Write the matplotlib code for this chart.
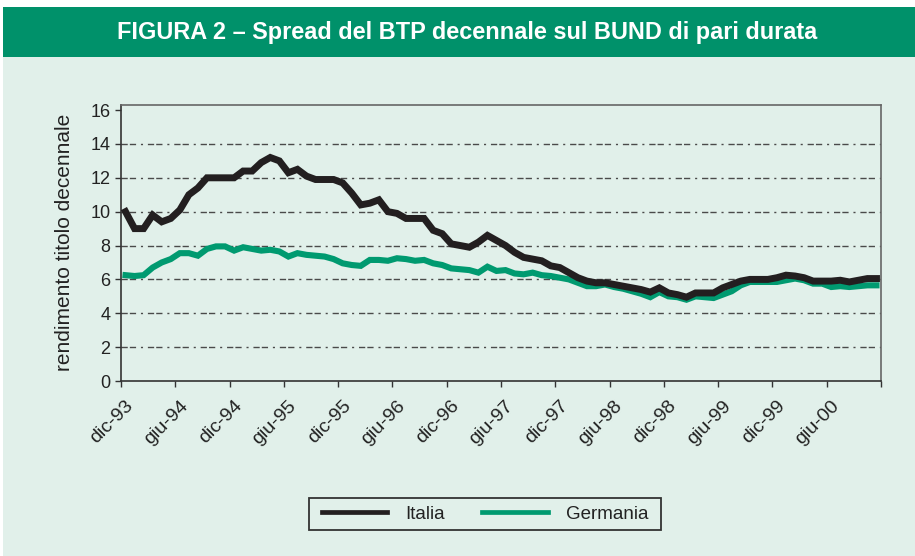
import matplotlib
matplotlib.use("Agg")
import matplotlib.pyplot as plt
from matplotlib.patches import Rectangle
import matplotlib.transforms as mtransforms

plt.rcParams["font.family"] = ["Liberation Sans", "DejaVu Sans"]
plt.rcParams["lines.scale_dashes"] = False

HEADER = "#00916A"
BG = "#E1F0EA"
BLACK = "#231F20"
GREEN = "#009A70"
GRID = "#4A4A4A"

# monthly observations, dic-93 .. nov-00
italia = [10.0, 9.0, 9.0, 9.8, 9.4, 9.6, 10.1, 11.0, 11.4, 12.0,
          12.0, 12.0, 12.0, 12.4, 12.4, 12.9, 13.2, 13.0, 12.3, 12.5,
          12.1, 11.9, 11.9, 11.9, 11.7, 11.1, 10.4, 10.5, 10.7, 10.0,
          9.9, 9.6, 9.6, 9.6, 8.9, 8.7, 8.1, 8.0, 7.9, 8.2,
          8.6, 8.3, 8.0, 7.6, 7.3, 7.2, 7.1, 6.8, 6.7, 6.4,
          6.1, 5.9, 5.8, 5.8, 5.7, 5.6, 5.5, 5.4, 5.25, 5.5,
          5.2, 5.1, 4.95, 5.2, 5.2, 5.2, 5.5, 5.7, 5.9, 6.0,
          6.0, 6.0, 6.1, 6.25, 6.2, 6.1, 5.9, 5.9, 5.9, 5.95,
          5.85, 5.95, 6.05, 6.05]
germania = [6.25, 6.2, 6.25, 6.7, 7.0, 7.2, 7.55, 7.55, 7.4, 7.8,
            7.95, 7.95, 7.7, 7.9, 7.8, 7.7, 7.75, 7.65, 7.35, 7.55,
            7.45, 7.4, 7.35, 7.2, 6.95, 6.85, 6.8, 7.15, 7.15, 7.1,
            7.25, 7.2, 7.1, 7.15, 6.95, 6.85, 6.65, 6.6, 6.55, 6.4,
            6.75, 6.5, 6.55, 6.35, 6.3, 6.4, 6.25, 6.2, 6.1, 6.0,
            5.8, 5.6, 5.6, 5.7, 5.55, 5.45, 5.3, 5.15, 4.95, 5.25,
            5.0, 4.95, 4.8, 5.0, 4.95, 4.9, 5.1, 5.3, 5.65, 5.85,
            5.85, 5.85, 5.85, 5.95, 6.05, 5.95, 5.75, 5.75, 5.55, 5.6,
            5.55, 5.6, 5.65, 5.65]
tick_labels = ["dic-93", "giu-94", "dic-94", "giu-95", "dic-95", "giu-96",
               "dic-96", "giu-97", "dic-97", "giu-98", "dic-98", "giu-99",
               "dic-99", "giu-00", ""]

W, H = 915, 556
fig = plt.figure(figsize=(W / 100, H / 100), dpi=100)
fig.patch.set_facecolor("white")
fig.patches.append(Rectangle((3 / W, 0), 1, 1 - 57 / H, transform=fig.transFigure,
                             facecolor=BG, edgecolor="none", zorder=-10))
fig.patches.append(Rectangle((3 / W, 1 - 57 / H), 1, 50 / H, transform=fig.transFigure,
                             facecolor=HEADER, edgecolor="none", zorder=-10))
fig.text(467 / W, 1 - 32 / H, "FIGURA 2 – Spread del BTP decennale sul BUND di pari durata",
         color="white", fontsize=16.9, fontweight="bold", ha="center", va="center")

ax = fig.add_axes([121 / W, 1 - 381 / H, 760 / W, 276 / H])
ax.set_facecolor(BG)

x = [i + 0.5 for i in range(len(italia))]
ax.plot(x, italia, color=BLACK, lw=5.0, solid_joinstyle="miter", label="Italia", zorder=3)
ax.plot(x, germania, color=GREEN, lw=4.4, solid_joinstyle="miter", label="Germania", zorder=2)

ax.set_xlim(0, 84)
ax.set_ylim(0, 16.3)
ax.set_yticks(range(0, 17, 2))
ax.set_xticks(range(0, 85, 6))

for yv in range(2, 16, 2):
    ax.axhline(yv, color=GRID, lw=1.0, ls=(0, (4.5, 1.5, 4.5, 3.5, 1.5, 3.5)), zorder=1)

ax.tick_params(axis="both", direction="out", length=4, width=1, color="#333333",
               labelcolor="#222222")
ax.tick_params(axis="y", labelsize=13)
ax.tick_params(axis="x", labelsize=14, pad=2)

ax.set_xticklabels(tick_labels, rotation=45, ha="right", rotation_mode="anchor",
                   fontsize=14)
offset = mtransforms.ScaledTranslation(4 / 100, -8 / 100, fig.dpi_scale_trans)
for lab in ax.get_xticklabels():
    lab.set_transform(lab.get_transform() + offset)

for side in ["left", "bottom"]:
    ax.spines[side].set_color("#333333")
    ax.spines[side].set_linewidth(1.2)
for side in ["top", "right"]:
    ax.spines[side].set_color("#666666")
    ax.spines[side].set_linewidth(1.2)

fig.text(65 / W, 1 - 242 / H, "rendimento titolo decennale", rotation=90,
         fontsize=15, color="#222222", ha="center", va="center")

# legend box drawn separately so its padding matches the original
fig.patches.append(Rectangle((309 / W, 1 - 530 / H), 352 / W, 32 / H,
                             transform=fig.transFigure, facecolor="none",
                             edgecolor="#333333", lw=1.3, zorder=5))
leg = ax.legend(loc="center", bbox_to_anchor=(485 / W, 1 - 514 / H),
                bbox_transform=fig.transFigure, ncol=2, fontsize=13.5,
                frameon=False, handlelength=3.5, handletextpad=0.95,
                columnspacing=2.0)
for line in leg.get_lines():
    line.set_linewidth(3.4)
for t in leg.get_texts():
    t.set_color("#222222")

fig.savefig("out.png", dpi=100)
